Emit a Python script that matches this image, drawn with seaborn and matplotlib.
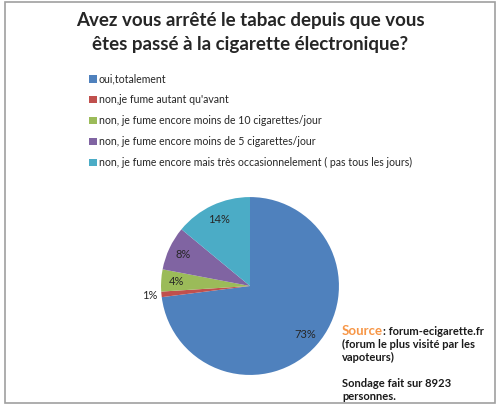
import numpy as np
import seaborn as sns
import matplotlib.pyplot as plt
from matplotlib.patches import Patch, Rectangle

# donnees du sondage
categories = ["oui,totalement",
              "non,je fume autant qu'avant",
              "non, je fume encore moins de 10 cigarettes/jour",
              "non, je fume encore moins de 5 cigarettes/jour",
              "non, je fume encore mais très occasionnelement ( pas tous les jours)"]
pourcentages = [73, 1, 4, 8, 14]
couleurs = ["#4F81BD", "#C0504D", "#9BBB59", "#8064A2", "#4BACC6"]

sns.set_theme(style="white")
plt.rcParams['font.family'] = ['Lato', 'DejaVu Sans']

fig = plt.figure(figsize=(5, 4.08), dpi=100)
fig.patches.append(Rectangle((0.01, 0.012), 0.98, 0.984, transform=fig.transFigure,
                             fill=False, edgecolor="#A0A0A0", linewidth=1.2))

fig.text(0.5, 0.92, "Avez vous arrêté le tabac depuis que vous\nêtes passé à la cigarette électronique?",
         ha="center", va="center", fontsize=13.5, fontweight="bold", linespacing=1.55)

ax = fig.add_axes([0.322, 0.081, 0.356, 0.436])
wedges, textes, pcts = ax.pie(pourcentages, colors=sns.color_palette(couleurs), startangle=90,
                              counterclock=False, autopct="%d%%", pctdistance=0.83,
                              wedgeprops=dict(linewidth=0),
                              textprops=dict(fontsize=8, color="#262626"))
ax.set_aspect("equal")
ax.set_xlim(-1, 1)
ax.set_ylim(-1, 1)

# le 1% est place a l'exterieur
w = wedges[1]
ang = np.deg2rad((w.theta1 + w.theta2) / 2)
pcts[1].set_position((1.13 * np.cos(ang), 1.13 * np.sin(ang)))

handles = [Patch(facecolor=c, edgecolor="none") for c in couleurs]
fig.legend(handles, categories, loc="upper left", bbox_to_anchor=(0.17, 0.83),
           frameon=False, fontsize=7.6, handlelength=0.7, handleheight=0.7,
           handletextpad=0.2, labelspacing=0.93, borderaxespad=0)

src = fig.text(0.684, 0.179, "Source", color="#F79646", fontsize=9.5, fontweight="bold", va="baseline")
fig.add_artist(plt.Annotation(": forum-ecigarette.fr", xy=(1, 0), xycoords=src, va="bottom",
                              color="#1a1a1a", fontsize=8, fontweight="bold"))
fig.text(0.684, 0.168, "(forum le plus visité par les\nvapoteurs)\n\nSondage fait sur 8923\npersonnes.",
         color="#1a1a1a", fontsize=8, fontweight="bold", va="top", linespacing=1.2)

fig.savefig("out.png", dpi=100)
